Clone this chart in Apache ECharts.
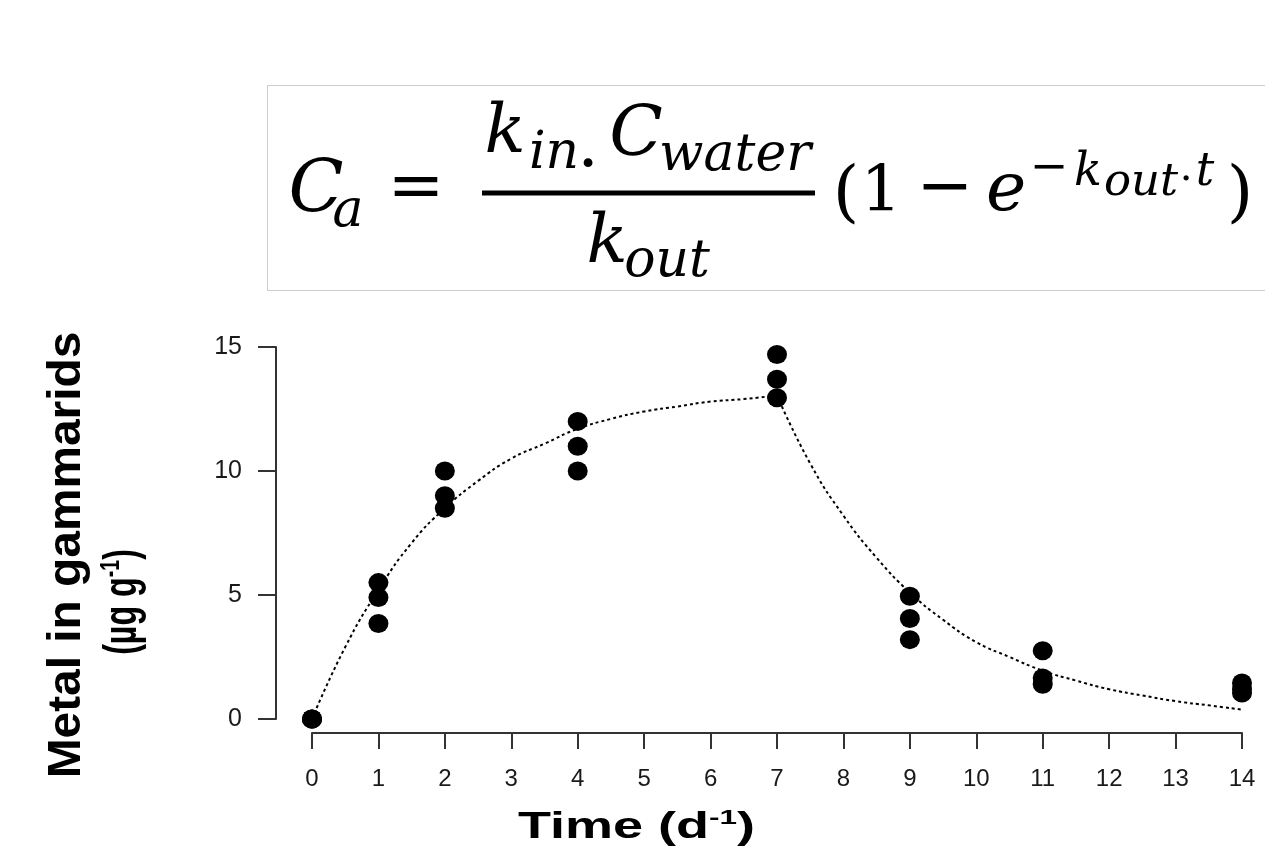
<!DOCTYPE html>
<html>
<head>
<meta charset="utf-8">
<script src="https://cdn.jsdelivr.net/npm/echarts@6/dist/echarts.min.js"></script>
<style>
  html, body { margin: 0; padding: 0; background: #fff; }
  #main { width: 1265px; height: 853px; }
</style>
</head>
<body>
<div id="main"></div>
<script>
// measured samples (three replicates per day)
const sampleDay = [0, 0, 0, 1, 1, 1, 2, 2, 2, 4, 4, 4, 7, 7, 7, 9, 9, 9, 11, 11, 11, 14, 14, 14];
const sampleMetal = [0, 0, 0, 5.5, 4.9, 3.85, 10, 9, 8.5, 12, 11, 10, 14.7, 13.7, 12.95, 4.95, 4.05, 3.2, 2.75, 1.65, 1.4, 1.45, 1.2, 1.05];

// fitted curve
const uptakeDay = [0, 0.5, 1, 1.5, 2, 2.5, 3, 3.5, 4, 4.5, 5, 5.5, 6, 6.5, 7];
const uptakeFit = [0, 2.9, 5.2, 7.1, 8.5, 9.6, 10.5, 11.1, 11.7, 12.1, 12.4, 12.6, 12.8, 12.9, 13.05];
const depurDay = [7, 7.5, 8, 8.5, 9, 9.5, 10, 10.5, 11, 11.5, 12, 12.5, 13, 13.5, 14];
const depurFit = [13.05, 10.3, 8.2, 6.5, 5.1, 4.0, 3.1, 2.5, 1.95, 1.55, 1.2, 0.95, 0.72, 0.55, 0.38];

const xTickStep = 1;
const yTicks = [0, 5, 10, 15];

const pair = (xs, ys) => xs.map((x, i) => [x, ys[i]]);

const serif = '"DejaVu Serif", "Liberation Serif", serif';
const sans = '"Liberation Sans", Arial, sans-serif';

// formula glyph helper: cx = horizontal centre, base = baseline
function piece(text, cx, base, size, italic) {
  return {
    type: 'text',
    x: cx,
    y: base - 0.33 * size,
    silent: true,
    style: {
      text: text,
      fontSize: size,
      fontFamily: serif,
      fontStyle: italic === false ? 'normal' : 'italic',
      fill: '#000',
      align: 'center', verticalAlign: 'middle',
      textAlign: 'center', textVerticalAlign: 'middle'
    }
  };
}

const formula = [
  { type: 'rect', silent: true, shape: { x: 267.5, y: 85.5, width: 1010, height: 205 },
    style: { fill: 'none', stroke: '#9a9a9a', lineWidth: 1, lineDash: [1, 1] } },
  piece('C', 316, 217, 72),
  piece('a', 348, 230, 52),
  piece('=', 416, 213, 68, false),
  piece('k', 505, 157, 68),
  piece('in', 554, 172, 52),
  piece('.', 588, 171, 68, false),
  piece('C', 636, 160, 70),
  piece('water', 735, 174, 52),
  { type: 'line', silent: true, shape: { x1: 482, y1: 193, x2: 815, y2: 193 },
    style: { stroke: '#000', lineWidth: 5 } },
  piece('k', 607, 267, 68),
  piece('out', 667, 280, 52),
  piece('(', 846, 219, 68, false),
  piece('1', 881, 215, 64, false),
  piece('\u2212', 945, 213, 68, false),
  piece('e', 1006, 215, 68),
  piece('\u2212', 1049, 184, 46, false),
  piece('k', 1088, 188, 46),
  piece('out', 1141, 198, 45),
  piece('.', 1186, 183, 40, false),
  piece('t', 1205, 188, 46),
  piece(')', 1240, 219, 68, false)
];

const titles = [
  {
    type: 'text', x: 518, y: 828, scaleX: 1.5, silent: true,
    style: {
      text: '{a|Time (d}{s|-1}{a|)}',
      align: 'left', verticalAlign: 'middle',
      textAlign: 'left', textVerticalAlign: 'middle',
      rich: {
        a: { fontSize: 36, fontWeight: 'bold', fontFamily: sans, fill: '#000', lineHeight: 40 },
        s: { fontSize: 21, fontWeight: 'bold', fontFamily: sans, fill: '#000', verticalAlign: 'top', lineHeight: 40, padding: [0, 0, 14, 0] }
      }
    }
  },
  {
    type: 'text', x: 67, y: 555, rotation: Math.PI / 2, scaleX: 1.04, silent: true,
    style: {
      text: 'Metal in gammarids',
      fontSize: 46, fontWeight: 'bold', fontFamily: sans, fill: '#000',
      align: 'center', verticalAlign: 'middle',
      textAlign: 'center', textVerticalAlign: 'middle'
    }
  },
  {
    type: 'text', x: 123, y: 602, rotation: Math.PI / 2, scaleX: 0.7, silent: true,
    style: {
      text: '{a|(\u00b5g g}{s|-1}{a|)}',
      align: 'center', verticalAlign: 'middle',
      textAlign: 'center', textVerticalAlign: 'middle',
      rich: {
        a: { fontSize: 46, fontWeight: 'bold', fontFamily: sans, fill: '#000', lineHeight: 52 },
        s: { fontSize: 28, fontWeight: 'bold', fontFamily: sans, fill: '#000', verticalAlign: 'top', lineHeight: 52, padding: [0, 0, 18, 0] }
      }
    }
  }
];

const chart = echarts.init(document.getElementById('main'), null, { renderer: 'canvas' });

const axisStroke = { color: '#333', width: 2 };

chart.setOption({
  backgroundColor: '#ffffff',
  animation: false,
  grid: { left: 312, right: 23, top: 347, bottom: 134 },
  xAxis: {
    type: 'value', min: 0, max: 14, interval: xTickStep, offset: 14,
    axisLine: { show: true, onZero: false, lineStyle: axisStroke },
    axisTick: { show: true, length: 16, lineStyle: axisStroke },
    axisLabel: { fontSize: 24, color: '#1a1a1a', margin: 34, fontFamily: sans },
    splitLine: { show: false }
  },
  yAxis: {
    type: 'value', min: yTicks[0], max: yTicks[yTicks.length - 1], interval: yTicks[1] - yTicks[0], offset: 36,
    axisLine: { show: true, onZero: false, lineStyle: axisStroke },
    axisTick: { show: true, length: 18, lineStyle: axisStroke },
    axisLabel: { fontSize: 25, color: '#1a1a1a', margin: 34, fontFamily: sans },
    splitLine: { show: false }
  },
  graphic: formula.concat(titles),
  series: [
    {
      name: 'uptake', type: 'line', data: pair(uptakeDay, uptakeFit),
      showSymbol: false, smooth: true, z: 2,
      lineStyle: { color: '#000', width: 2, type: [3, 3] }
    },
    {
      name: 'depuration', type: 'line', data: pair(depurDay, depurFit),
      showSymbol: false, smooth: true, z: 2,
      lineStyle: { color: '#000', width: 2, type: [3, 3] }
    },
    {
      name: 'samples', type: 'scatter', data: pair(sampleDay, sampleMetal),
      symbol: 'circle', symbolSize: [20, 19], z: 3,
      itemStyle: { color: '#000', opacity: 1 }
    }
  ]
});
</script>
</body>
</html>
